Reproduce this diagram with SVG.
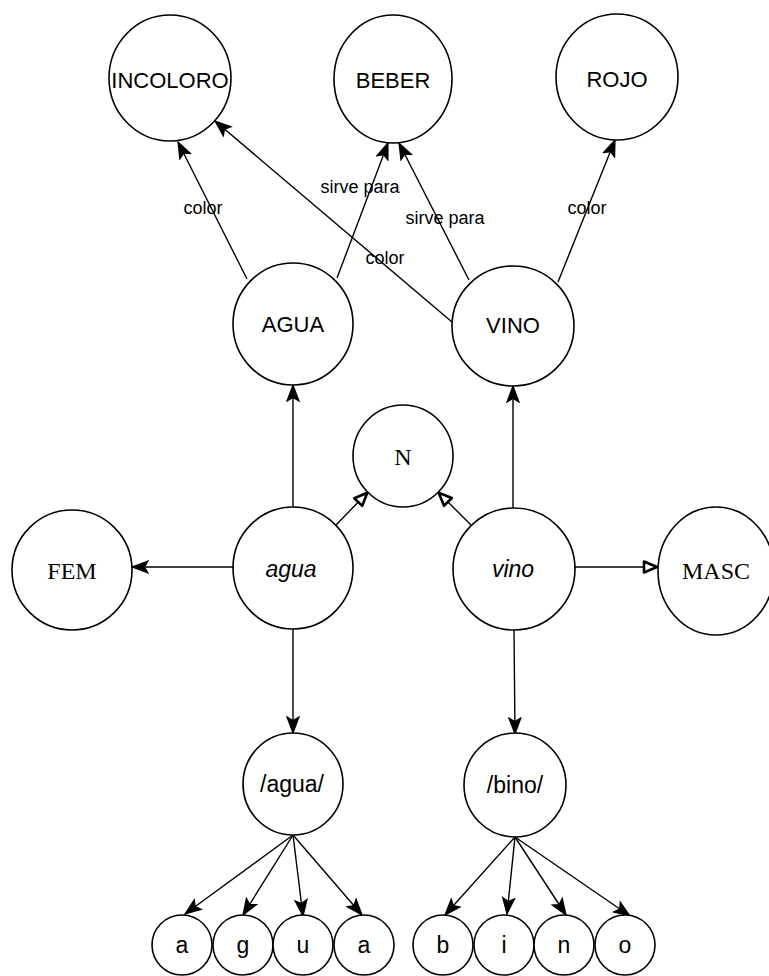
<svg xmlns="http://www.w3.org/2000/svg" width="769" height="976" viewBox="0 0 769 976">
  <style>
    .node ellipse { fill: #fff; stroke: #000; stroke-width: 1.6; }
    .lbl { font-family: "Liberation Sans", Arial, sans-serif; font-size: 22px; fill: #000; text-anchor: middle; }
    .it { font-style: italic; font-size: 23px; }
    .serif { font-family: "Liberation Serif", "Times New Roman", serif; font-size: 24px; }
    .small { font-size: 23px; }
    .edge { stroke: #000; stroke-width: 1.4; fill: none; }
    .solid { marker-end: url(#arrow); }
    .open { marker-end: url(#arrow-open); }
    .elbl { font-family: "Liberation Sans", Arial, sans-serif; font-size: 18px; fill: #000; text-anchor: middle; }
  </style>
  <defs>
    <marker id="arrow" markerUnits="userSpaceOnUse" viewBox="-17 -8 18 16" refX="0" refY="0" markerWidth="18" markerHeight="16" orient="auto">
      <path d="M0,0 L-16,-6 L-12.5,0 L-16,6 Z" fill="#000" stroke="#000" stroke-width="1.2"/>
    </marker>
    <marker id="arrow-open" markerUnits="userSpaceOnUse" viewBox="-17 -8 18 16" refX="0" refY="0" markerWidth="18" markerHeight="16" orient="auto">
      <path d="M-1,0 L-14,-5.5 L-14,5.5 Z" fill="#fff" stroke="#000" stroke-width="2.6" stroke-linejoin="round"/>
    </marker>
  </defs>

  <rect width="769" height="976" fill="#fff"/>

  <!-- connectors -->
  <g id="connectors">
    <line class="edge solid" x1="247" y1="279" x2="178" y2="142"/>
    <line class="edge solid" x1="337" y1="278" x2="388" y2="143"/>
    <line class="edge solid" x1="469" y1="280" x2="399" y2="143"/>
    <line class="edge solid" x1="452" y1="322" x2="215" y2="121"/>
    <line class="edge solid" x1="558" y1="282" x2="615" y2="140"/>
    <line class="edge solid" x1="293" y1="507" x2="293" y2="385"/>
    <line class="edge solid" x1="513" y1="508" x2="513" y2="386"/>
    <line class="edge open" x1="336" y1="525" x2="368" y2="492"/>
    <line class="edge open" x1="471" y1="525" x2="438" y2="492"/>
    <line class="edge solid" x1="233" y1="567" x2="132" y2="567"/>
    <line class="edge open" x1="575" y1="567" x2="658" y2="567"/>
    <line class="edge solid" x1="293" y1="629" x2="293" y2="733"/>
    <line class="edge solid" x1="514" y1="630" x2="515" y2="734"/>
    <line class="edge solid" x1="293" y1="835" x2="185" y2="914"/>
    <line class="edge solid" x1="293" y1="835" x2="243" y2="915"/>
    <line class="edge solid" x1="293" y1="835" x2="303" y2="916"/>
    <line class="edge solid" x1="293" y1="835" x2="362" y2="915"/>
    <line class="edge solid" x1="515" y1="837" x2="445" y2="915"/>
    <line class="edge solid" x1="515" y1="837" x2="507" y2="914"/>
    <line class="edge solid" x1="515" y1="837" x2="566" y2="915"/>
    <line class="edge solid" x1="515" y1="837" x2="630" y2="916"/>

    <text class="elbl" x="203" y="214">color</text>
    <text class="elbl" x="360" y="193">sirve para</text>
    <text class="elbl" x="445" y="224">sirve para</text>
    <text class="elbl" x="385" y="264">color</text>
    <text class="elbl" x="587" y="214">color</text>
  </g>

  <!-- concepts -->
  <g id="incoloro" class="node"><ellipse cx="170" cy="78" rx="61" ry="63"/><text class="lbl" x="170" y="88">INCOLORO</text></g>
  <g id="beber" class="node"><ellipse cx="393" cy="79" rx="59" ry="64"/><text class="lbl" x="393" y="88">BEBER</text></g>
  <g id="rojo" class="node"><ellipse cx="617" cy="77" rx="61" ry="63"/><text class="lbl" x="617" y="87">ROJO</text></g>
  <g id="AGUA" class="node"><ellipse cx="293" cy="324" rx="60" ry="61"/><text class="lbl" x="293" y="332">AGUA</text></g>
  <g id="VINO" class="node"><ellipse cx="513" cy="326" rx="61" ry="60"/><text class="lbl" x="513" y="333">VINO</text></g>

  <!-- grammatical features -->
  <g id="N" class="node"><ellipse cx="403" cy="456" rx="50" ry="51"/><text class="lbl serif" x="403" y="465">N</text></g>
  <g id="FEM" class="node"><ellipse cx="72" cy="570" rx="60" ry="60"/><text class="lbl serif" x="72" y="579">FEM</text></g>
  <g id="MASC" class="node"><ellipse cx="716" cy="571" rx="58" ry="64"/><text class="lbl serif" x="716" y="579">MASC</text></g>

  <!-- words -->
  <g id="agua" class="node"><ellipse cx="293" cy="568" rx="60" ry="61"/><text class="lbl it" x="291" y="577">agua</text></g>
  <g id="vino" class="node"><ellipse cx="514" cy="569" rx="61" ry="61"/><text class="lbl it" x="513" y="577">vino</text></g>

  <!-- phonological forms -->
  <g id="agua-phon" class="node"><ellipse cx="293" cy="784" rx="50" ry="51"/><text class="lbl small" x="292" y="792">/agua/</text></g>
  <g id="bino-phon" class="node"><ellipse cx="515" cy="785" rx="51" ry="52"/><text class="lbl small" x="515" y="793">/bino/</text></g>

  <!-- segments -->
  <g id="seg-a1" class="node"><ellipse cx="182" cy="945" rx="30" ry="30"/><text class="lbl small" x="182" y="953">a</text></g>
  <g id="seg-g" class="node"><ellipse cx="243" cy="945" rx="30" ry="30"/><text class="lbl small" x="243" y="953">g</text></g>
  <g id="seg-u" class="node"><ellipse cx="303" cy="945" rx="30" ry="30"/><text class="lbl small" x="303" y="953">u</text></g>
  <g id="seg-a2" class="node"><ellipse cx="364" cy="945" rx="30" ry="30"/><text class="lbl small" x="364" y="953">a</text></g>
  <g id="seg-b" class="node"><ellipse cx="443" cy="945" rx="30" ry="30"/><text class="lbl small" x="443" y="953">b</text></g>
  <g id="seg-i" class="node"><ellipse cx="504" cy="945" rx="30" ry="30"/><text class="lbl small" x="504" y="953">i</text></g>
  <g id="seg-n" class="node"><ellipse cx="564" cy="945" rx="30" ry="30"/><text class="lbl small" x="564" y="953">n</text></g>
  <g id="seg-o" class="node"><ellipse cx="625" cy="945" rx="30" ry="30"/><text class="lbl small" x="625" y="953">o</text></g>
</svg>
